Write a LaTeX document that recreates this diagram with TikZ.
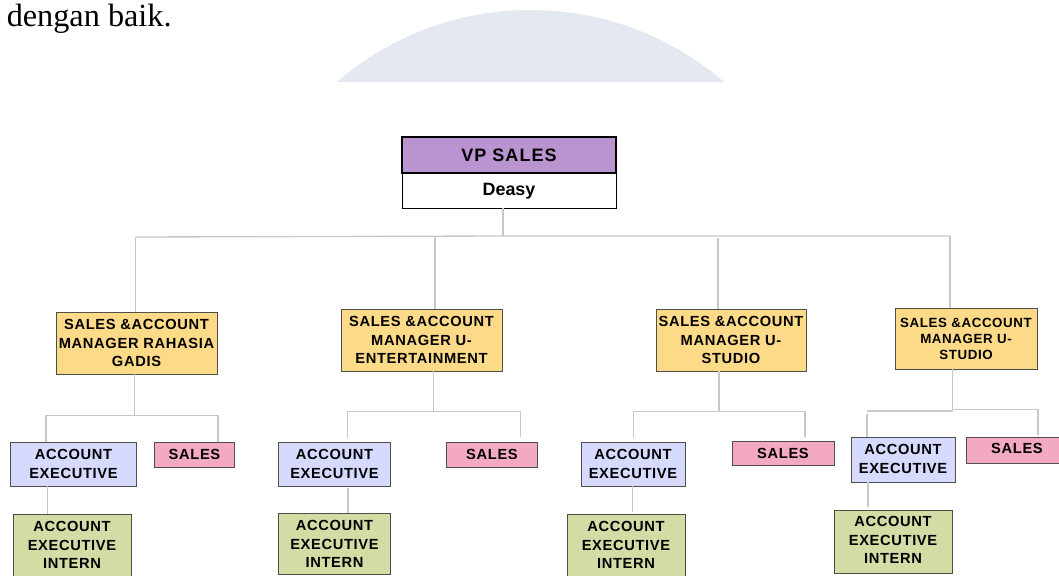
\documentclass[tikz,border=0pt]{standalone}
\usepackage{fontspec}
\setmainfont{Liberation Serif}
\newfontfamily\labfont[LetterSpace=4.5]{Liberation Sans}
\newfontfamily\vpfont[LetterSpace=5.6]{Liberation Sans}
\newfontfamily\namefont{Liberation Sans}
\usetikzlibrary{calc}
\definecolor{cyel}{HTML}{FDDA88}
\definecolor{cblu}{HTML}{D6DAFE}
\definecolor{cpnk}{HTML}{F3A9C0}
\definecolor{cgrn}{HTML}{D3DCA4}
\definecolor{cpur}{HTML}{B994D1}
\definecolor{ccap}{HTML}{E4E8F0}
\definecolor{cedge}{HTML}{4F4F49}
\definecolor{cline}{HTML}{C8C8C8}
\newcommand{\liftby}[2]{\raisebox{#1}[\dimexpr\height-(#1)\relax][\dimexpr\depth+(#1)\relax]{#2}}
\newcommand{\liftstack}[2]{\liftby{#1}{\begin{tabular}{@{}c@{}}#2\end{tabular}}}
\tikzset{
  x=0.75pt,y=-0.75pt,
  wh/.style 2 args={minimum width=#1*0.75pt,minimum height=#2*0.75pt},
  orgbox/.style={draw=cedge,line width=0.72pt,inner sep=0pt,align=center,
    font=\labfont\bfseries\fontsize{11}{14}\selectfont,text=black},
  ybox/.style={orgbox,fill=cyel},
  ybox small/.style={orgbox,fill=cyel,font=\labfont\bfseries\fontsize{10}{12}\selectfont},
  aebox/.style={orgbox,fill=cblu},
  sbox/.style={orgbox,fill=cpnk},
  ibox/.style={orgbox,fill=cgrn},
  vpbox/.style={orgbox,fill=cpur,draw=black,line width=0.8pt,font=\vpfont\bfseries\fontsize{13.5}{14}\selectfont},
  namebox/.style={orgbox,fill=white,draw=black,line width=0.7pt,font=\namefont\bfseries\fontsize{13.4}{14}\selectfont},
  link/.style={draw=cline,line width=1pt},
  thin link/.style={draw=cline,line width=0.8pt},
}
\begin{document}
\begin{tikzpicture}
\path[use as bounding box,clip] (0,0) rectangle (1059,575);
\fill[white] (0,0) rectangle (1059,575);

% background cap
\begin{scope}
\clip (300,0) rectangle (760,81);
\fill[ccap] (530.5,306.5) circle[radius=296.5*0.75pt];
\end{scope}

\node[anchor=base west,inner sep=0pt,font=\fontsize{24.2}{26}\selectfont] (para) at (6.5,26) {dengan baik.};

% top
\node[vpbox,wh={214}{36}] (vp) at (509,155) {VP SALES};
\node[namebox,wh={214}{35}] (deasy) at (509,190.5) {\liftby{-0.2pt}{Deasy}};

% managers
\node[ybox,wh={161}{62}] (m1) at (136.5,343) {SALES \&ACCOUNT\\MANAGER RAHASIA\\GADIS};
\node[ybox,wh={161}{62}] (m2) at (421.5,340) {SALES \&ACCOUNT\\MANAGER U-\\ENTERTAINMENT};
\node[ybox,wh={150}{62}] (m3) at (731,340) {SALES \&ACCOUNT\\MANAGER U-\\STUDIO};
\node[ybox small,wh={142}{61}] (m4) at (966,338.5) {SALES \&ACCOUNT\\MANAGER U-\\STUDIO};

% account executives
\node[aebox,wh={126}{44}] (ae1) at (73.5,464) {ACCOUNT\\EXECUTIVE};
\node[aebox,wh={112}{44}] (ae2) at (334.5,464) {ACCOUNT\\EXECUTIVE};
\node[aebox,wh={104}{44}] (ae3) at (633,464) {ACCOUNT\\EXECUTIVE};
\node[aebox,wh={104}{45}] (ae4) at (903,459.5) {\liftstack{-0.4pt}{ACCOUNT\\EXECUTIVE}};

% sales
\node[sbox,wh={80}{25}] (s1) at (194.5,454.5) {SALES};
\node[sbox,wh={91}{25}] (s2) at (492,454.5) {SALES};
\node[sbox,wh={102}{24}] (s3) at (783,453) {SALES};
\node[sbox,wh={102}{26}] (s4) at (1017,450) {\liftby{0.75pt}{SALES}};

% interns
\node[ibox,wh={118}{62}] (i1) at (72,545) {ACCOUNT\\EXECUTIVE\\INTERN};
\node[ibox,wh={112}{61}] (i2) at (334.5,543.5) {\liftstack{-0.75pt}{ACCOUNT\\EXECUTIVE\\INTERN}};
\node[ibox,wh={118}{62}] (i3) at (626,545) {ACCOUNT\\EXECUTIVE\\INTERN};
\node[ibox,wh={118}{63}] (i4) at (893,541.5) {\liftstack{0pt}{ACCOUNT\\EXECUTIVE\\INTERN}};

% junctions
\coordinate (j0) at (503,236);
\coordinate (b1) at (135.5,237);
\coordinate (b2) at (435,236.5);
\coordinate (b3) at (718,238);
\coordinate (b4) at (950,236);
\coordinate (j1) at (134.5,415.5);
\coordinate (l1) at (46,415.5);
\coordinate (r1) at (218,415.5);
\coordinate (j2) at (433.7,411.5);
\coordinate (l2) at (347.5,411.5);
\coordinate (r2) at (520.5,411.5);
\coordinate (e2l) at (347.5,437.5);
\coordinate (e2r) at (520.5,436.5);
\coordinate (j3) at (719,411.5);
\coordinate (l3) at (633.5,411.5);
\coordinate (r3) at (805,411.5);
\coordinate (e3l) at (633.5,437.5);
\coordinate (e3r) at (805,436.5);
\coordinate (j4) at (952.5,411);
\coordinate (j4r) at (952.5,409.5);
\coordinate (l4) at (867,411);
\coordinate (l4t) at (867,414);
\coordinate (r4) at (1038,409.5);
\coordinate (e4r) at (1038,435);
\coordinate (f1) at (47.5,486);
\coordinate (f2) at (348,488);
\coordinate (f3) at (632.5,512);
\coordinate (f4) at (868,507);

% top connectors
\draw[thin link] (deasy.south -| j0) -- (j0);
\draw[link] (b1) -- (j0) -- (b4);
\draw[thin link] (b1) -- (m1.north -| b1);
\draw[thin link] (b2) -- (m2.north -| b2);
\draw[thin link] (b3) -- (m3.north -| b3);
\draw[thin link] (b4) -- (m4.north -| b4);

% branch 1
\draw[link] (m1.south -| j1) -- (j1);
\draw[link] (ae1.north -| l1) -- (l1) -- (r1) -- (s1.north -| r1);
\draw[link] (ae1.south -| f1) -- (i1.north -| f1);
% branch 2
\draw[link] (m2.south -| j2) -- (j2);
\draw[link] (e2l) -- (l2) -- (r2) -- (e2r);
\draw[link] (f2) -- (i2.north -| f2);
% branch 3
\draw[link] (m3.south -| j3) -- (j3);
\draw[link] (e3l) -- (l3) -- (r3) -- (e3r);
\draw[link] (ae3.south -| f3) -- (f3);
% branch 4
\draw[link] (m4.south -| j4) -- (j4r);
\draw[link] (l4) -- (j4);
\draw[link] (j4r) -- (r4) -- (e4r);
\draw[link] (l4t) -- (ae4.north -| l4t);
\draw[link] (ae4.south -| f4) -- (f4);
\end{tikzpicture}
\end{document}
